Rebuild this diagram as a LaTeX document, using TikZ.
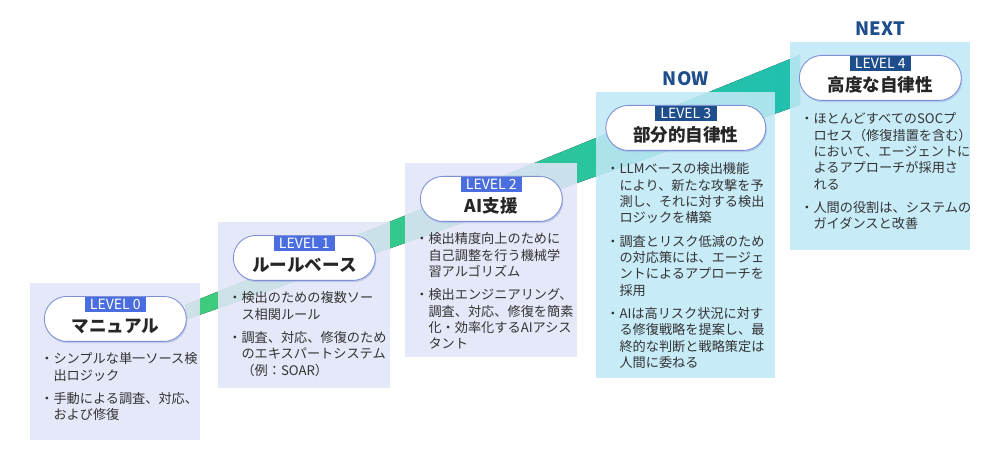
\documentclass[tikz,border=0pt]{standalone}
\usepackage{fontspec}
\setmainfont{Noto Sans CJK JP}
\usetikzlibrary{positioning,shadows}

\definecolor{lavpanel}{HTML}{E1E5F7}
\definecolor{skypanel}{HTML}{BFE8F6}
\definecolor{badgeblue}{HTML}{4A6EE0}
\definecolor{badgenavy}{HTML}{1F4E8C}
\definecolor{pillline}{HTML}{7F8FD6}
\definecolor{bandgreen}{HTML}{3DCC7A}
\definecolor{bandteal}{HTML}{20C0B0}
\definecolor{bodytext}{HTML}{333333}

\newcommand\bul[1]{\begin{tabular}[t]{@{}l@{}l@{}}・&\begin{tabular}[t]{@{}l@{}}#1\end{tabular}\end{tabular}}

\tikzset{
  panel/.style={rectangle, anchor=north west, draw=none, fill opacity=0.88, inner sep=0pt},
  pill/.style={rectangle, rounded corners=0.45cm, draw=pillline, line width=0.5pt, fill=white,
    minimum height=0.9cm, anchor=north,
    drop shadow={shadow xshift=0.6pt, shadow yshift=-1pt, fill=pillline, opacity=0.35}},
  badge/.style={rectangle, inner xsep=3pt, inner ysep=0.5pt, minimum height=0.3cm,
    text=white, font=\fontsize{8}{9}\selectfont},
  ttl/.style={font=\bfseries\fontsize{10}{11}\selectfont, text=black!85},
  body/.style={anchor=north west, inner sep=0pt, align=left, text=bodytext,
    font=\fontsize{7.5}{9.3}\selectfont},
  phase/.style={font=\bfseries\fontsize{10.5}{11}\selectfont, text=badgenavy},
}

\begin{document}
\begin{tikzpicture}[x=0.02cm,y=-0.02cm]
  \useasboundingbox (0,0) rectangle (1000,470);

  % rising band behind the panels
  \fill[left color=bandgreen, right color=bandteal] (185,305) -- (800,55) -- (800,105) -- (185,320) -- cycle;

  % LEVEL 0
  \node[panel, fill=lavpanel, minimum width=3.4cm, minimum height=3.14cm] (p0) at (30,283) {};
  \node[pill, minimum width=2.84cm, below=0.26cm of p0.north] (pill0) {};
  \node[badge, fill=badgeblue] (b0) at ([yshift=-0.17cm]pill0.north) {LEVEL 0};
  \node[ttl] (t0) at ([yshift=-0.14cm]pill0.center) {マニュアル};
  \node[body] (d0) at ([xshift=0.2cm,yshift=-1.38cm]p0.north west)
    {\bul{シンプルな単一ソース検\\出ロジック}\\[3pt]\bul{手動による調査、対応、\\および修復}};

  % LEVEL 1
  \node[panel, fill=lavpanel, minimum width=3.44cm, minimum height=3.32cm] (p1) at (218,222) {};
  \node[pill, minimum width=2.84cm, below=0.26cm of p1.north] (pill1) {};
  \node[badge, fill=badgeblue] (b1) at ([yshift=-0.17cm]pill1.north) {LEVEL 1};
  \node[ttl] (t1) at ([yshift=-0.14cm]pill1.center) {ルールベース};
  \node[body] (d1) at ([xshift=0.2cm,yshift=-1.38cm]p1.north west)
    {\bul{検出のための複数ソー\\ス相関ルール}\\[3pt]\bul{調査、対応、修復のため\\のエキスパートシステム\\（例：SOAR）}};

  % LEVEL 2
  \node[panel, fill=lavpanel, minimum width=3.44cm, minimum height=3.88cm] (p2) at (405,163) {};
  \node[pill, minimum width=2.84cm, below=0.26cm of p2.north] (pill2) {};
  \node[badge, fill=badgeblue] (b2) at ([yshift=-0.17cm]pill2.north) {LEVEL 2};
  \node[ttl] (t2) at ([yshift=-0.14cm]pill2.center) {AI支援};
  \node[body] (d2) at ([xshift=0.2cm,yshift=-1.38cm]p2.north west)
    {\bul{検出精度向上のために\\自己調整を行う機械学\\習アルゴリズム}\\[3pt]\bul{検出エンジニアリング、\\調査、対応、修復を簡素\\化・効率化するAIアシス\\タント}};

  % LEVEL 3
  \node[panel, fill=skypanel, minimum width=3.58cm, minimum height=5.72cm] (p3) at (596,92) {};
  \node[phase, above=0pt of p3.north] (now) {NOW};
  \node[pill, minimum width=3.2cm, below=0.26cm of p3.north] (pill3) {};
  \node[badge, fill=badgenavy] (b3) at ([yshift=-0.17cm]pill3.north) {LEVEL 3};
  \node[ttl] (t3) at ([yshift=-0.14cm]pill3.center) {部分的自律性};
  \node[body] (d3) at ([xshift=0.2cm,yshift=-1.4cm]p3.north west)
    {\bul{LLMベースの検出機能\\により、新たな攻撃を予\\測し、それに対する検出\\ロジックを構築}\\[3pt]\bul{調査とリスク低減のため\\の対応策には、エージェ\\ントによるアプローチを\\採用}\\[3pt]\bul{AIは高リスク状況に対す\\る修復戦略を提案し、最\\終的な判断と戦略策定は\\人間に委ねる}};

  % LEVEL 4
  \node[panel, fill=skypanel, minimum width=3.6cm, minimum height=4.16cm] (p4) at (790,42) {};
  \node[phase, above=0pt of p4.north] (next) {NEXT};
  \node[pill, minimum width=3.24cm, below=0.26cm of p4.north] (pill4) {};
  \node[badge, fill=badgenavy] (b4) at ([yshift=-0.17cm]pill4.north) {LEVEL 4};
  \node[ttl] (t4) at ([yshift=-0.14cm]pill4.center) {高度な自律性};
  \node[body] (d4) at ([xshift=0.2cm,yshift=-1.4cm]p4.north west)
    {\bul{ほとんどすべてのSOCプ\\ロセス（修復措置を含む）\\において、エージェントに\\よるアプローチが採用さ\\れる}\\[3pt]\bul{人間の役割は、システムの\\ガイダンスと改善}};
\end{tikzpicture}
\end{document}
